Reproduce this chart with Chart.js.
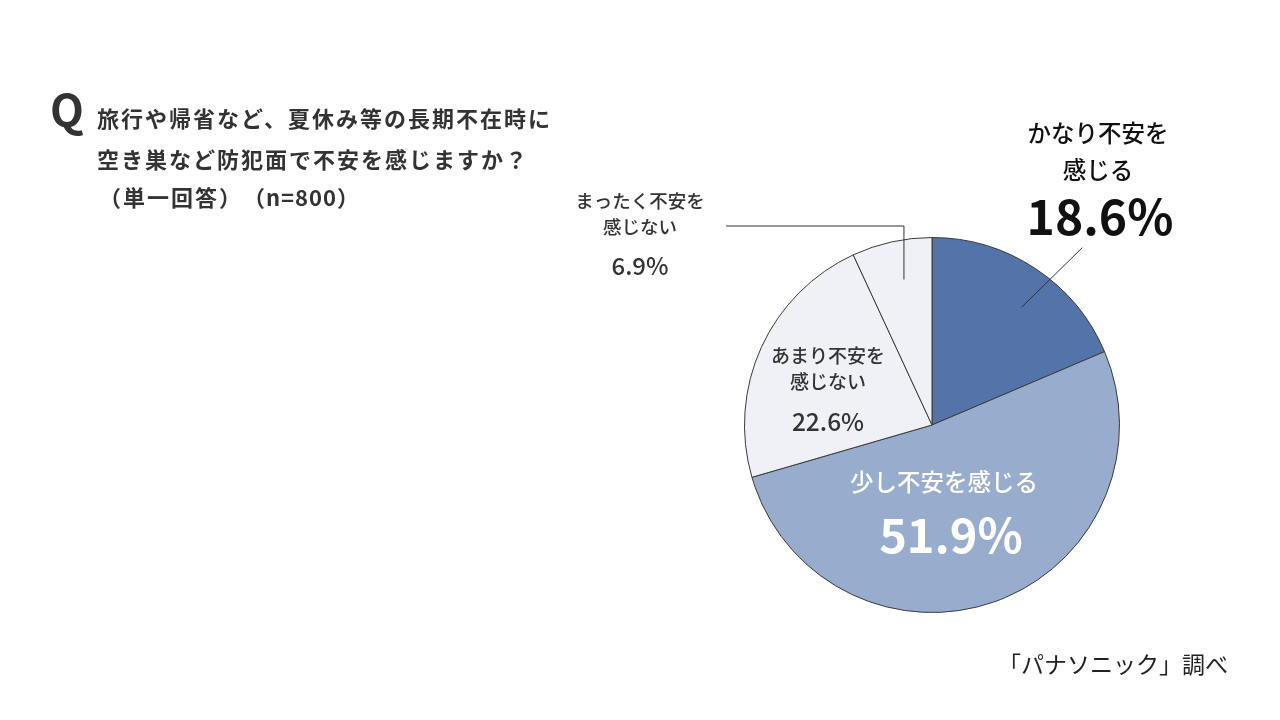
<!DOCTYPE html>
<html><head><meta charset="utf-8">
<script src="https://cdn.jsdelivr.net/npm/chart.js@4.4.0/dist/chart.umd.min.js"></script>
<style>html,body{margin:0;padding:0;background:#fff;}#wrap{width:1280px;height:720px;position:relative;}</style>
</head><body><div id="wrap"><canvas id="c" width="1280" height="720"></canvas></div>
<script>
const categories = ['かなり不安を感じる','少し不安を感じる','あまり不安を感じない','まったく不安を感じない'];
const values = [18.6, 51.9, 22.6, 6.9];
const colors = ['#5473a8','#98adcd','#eff1f6','#eff1f6'];
const labelLines = [['かなり不安を','感じる'],['少し不安を感じる'],['あまり不安を','感じない'],['まったく不安を','感じない']];
const titleLines = ['旅行や帰省など、夏休み等の長期不在時に','空き巣など防犯面で不安を感じますか？','（単一回答）','（n=800）'];
const sourceText = '「パナソニック」調べ';
const FONT = '"Noto Sans CJK JP","Noto Sans",sans-serif';

const overlay = {
  id:'overlay',
  afterDraw(chart){
    const ctx = chart.ctx;
    const meta = chart.getDatasetMeta(0);
    ctx.save();
    // Title
    ctx.fillStyle = '#333';
    ctx.textBaseline = 'middle';
    ctx.textAlign = 'left';
    ctx.font = 'bold 44px ' + FONT;
    ctx.fillText('Q', 50, 110);
    ctx.font = 'bold 22px ' + FONT;
    ctx.letterSpacing = '2px';
    ctx.fillText(titleLines[0], 97, 119);
    ctx.fillText(titleLines[1], 97, 160);
    ctx.fillText(titleLines[2], 99, 198);
    ctx.letterSpacing = '1px';
    ctx.fillText(titleLines[3], 243, 198);
    ctx.letterSpacing = '0px';
    // Source
    ctx.textAlign = 'right';
    ctx.font = '23px ' + FONT;
    ctx.fillStyle = '#222';
    ctx.fillText(sourceText, 1228, 664);

    const fmt = v => v.toFixed(1) + '%';
    ctx.textAlign = 'center';
    // Slice 0
    ctx.fillStyle = '#111';
    ctx.font = '500 23.5px ' + FONT;
    ctx.fillText(labelLines[0][0], 1098, 133);
    ctx.fillText(labelLines[0][1], 1098, 170);
    ctx.font = 'bold 48px ' + FONT;
    ctx.fillText(fmt(values[0]), 1100, 217);
    // Slice 1
    ctx.fillStyle = '#fff';
    ctx.font = '500 23.5px ' + FONT;
    ctx.fillText(labelLines[1][0], 944, 482);
    ctx.font = 'bold 47px ' + FONT;
    ctx.fillText(fmt(values[1]), 951, 535);
    // Slice 2
    ctx.fillStyle = '#333';
    ctx.font = '500 19px ' + FONT;
    ctx.fillText(labelLines[2][0], 828, 356);
    ctx.fillText(labelLines[2][1], 828, 382);
    ctx.font = '500 24.5px ' + FONT;
    ctx.fillText(fmt(values[2]), 828, 422);
    // Slice 3
    ctx.font = '500 18.5px ' + FONT;
    ctx.fillText(labelLines[3][0], 640, 201);
    ctx.fillText(labelLines[3][1], 640, 227);
    ctx.font = '500 24px ' + FONT;
    ctx.fillText(fmt(values[3]), 640, 266);

    // Leader lines from arc geometry
    const pt = (arc, f, dDeg) => {
      const a = (arc.startAngle + arc.endAngle)/2 + dDeg*Math.PI/180;
      const r = arc.outerRadius * f;
      return {x: arc.x + Math.cos(a)*r, y: arc.y + Math.sin(a)*r};
    };
    ctx.strokeStyle = '#333';
    ctx.lineWidth = 1;
    const a0 = meta.data[0];
    const p1 = pt(a0, 0.79, 3.8), p2 = pt(a0, 1.24, 6.8);
    ctx.beginPath(); ctx.moveTo(p1.x, p1.y); ctx.lineTo(p2.x, p2.y); ctx.stroke();
    const a3 = meta.data[3];
    const q1 = pt(a3, 0.79, 1.5);
    ctx.beginPath(); ctx.moveTo(q1.x, q1.y); ctx.lineTo(q1.x, 226); ctx.lineTo(726, 226); ctx.stroke();
    ctx.restore();
  }
};

new Chart(document.getElementById('c'), {
  type:'pie',
  data:{labels:categories, datasets:[{data:values, backgroundColor:colors, borderColor:'#3a3a3a', borderWidth:1}]},
  options:{
    responsive:false, animation:false,
    layout:{padding:{left:744, right:160, top:237, bottom:107}},
    plugins:{legend:{display:false}, tooltip:{enabled:false}}
  },
  plugins:[overlay]
});
</script></body></html>
